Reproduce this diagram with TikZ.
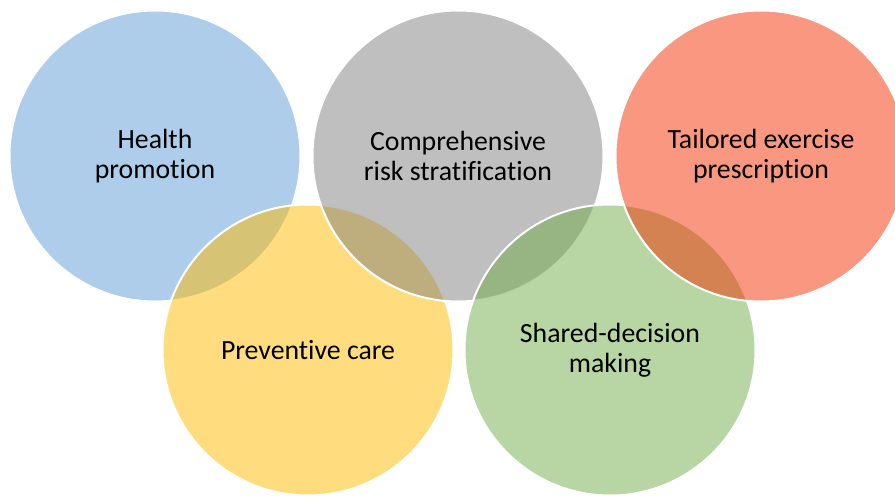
\documentclass[tikz,border=0pt]{standalone}
\usepackage{fontspec}
\setmainfont{Carlito}[RawFeature=-liga]
\usepackage{xcolor}
\usepackage{tikz}

\definecolor{ringblue}{RGB}{91,155,213}
\definecolor{ringgold}{RGB}{255,188,0}
\definecolor{ringgray}{RGB}{127,127,127}
\definecolor{ringgreen}{RGB}{112,173,71}
\definecolor{ringred}{RGB}{243,48,2}

\tikzset{
  ring/.style={circle, minimum size=291pt, inner sep=0pt, fill=#1,
    fill opacity=0.5, text opacity=1, draw=white, line width=2pt,
    align=center, font=\fontsize{27.8}{30}\selectfont, text=black}
}

\begin{document}
\begin{tikzpicture}[x=1pt, y=-1pt]
  \useasboundingbox (0,0) rectangle (895,498);   %Rahmen
  % untere Reihe liegt abwechselnd ueber der oberen
  \node [ring=ringblue]  (health)    at (155,156) {Health\\promotion};
  \node [ring=ringgold]  (preventive) at (308,350) {Preventive care};
  \node [ring=ringgray]  (risk)      at (458,156) {Comprehensive\\risk stratification};
  \node [ring=ringgreen] (shared)    at (610,350) {Shared-decision\\making};
  \node [ring=ringred]   (exercise)  at (761,156) {Tailored exercise\\prescription};
\end{tikzpicture}
\end{document}
